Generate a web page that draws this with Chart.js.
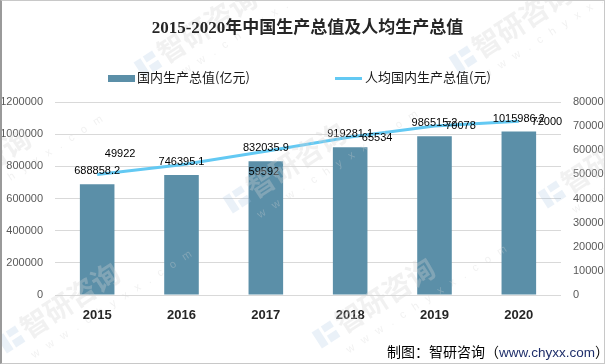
<!DOCTYPE html>
<html>
<head>
<meta charset="utf-8">
<script src="https://cdn.jsdelivr.net/npm/chart.js@4.4.0/dist/chart.umd.min.js"></script>
<style>
body { margin: 0; background: #fff; }
#wrap { position: relative; width: 605px; height: 364px; overflow: hidden; }
#frame { position: absolute; left: 0; top: 0; border: 1px solid #c8c8c8; border-left: 2px solid #9a9a9a; box-sizing: border-box; width: 605px; height: 364px; pointer-events: none; }
canvas { position: absolute; left: 0; top: 0; }
.title { position: absolute; left: 0; top: 13px; width: 605px; text-align: center; padding-left: 10px; box-sizing: border-box;
  font: bold 17px "Liberation Serif", "Noto Sans CJK SC", serif; color: #262626; }
.legend { position: absolute; top: 69px; font: 13px "Noto Sans CJK SC", sans-serif; color: #1a1a1a; line-height: 16px; }
.legend span.box { display: inline-block; width: 27px; height: 7px; background: #5b8fa8; vertical-align: middle; margin-right: 2px; }
.legend span.ln { display: inline-block; width: 27px; height: 3px; background: #63c9f3; vertical-align: middle; margin-right: 3px; }
.footer { position: absolute; left: 387px; top: 341px; font: 14px "Noto Sans CJK SC", sans-serif; color: #000; white-space: nowrap; }
.footer b { font-weight: normal; color: #1f2f6b; font-family: "Liberation Sans", Arial, sans-serif; font-size: 13.5px; }
</style>
</head>
<body>
<div id="wrap">
  <canvas id="myChart" width="605" height="364"></canvas>
  <div class="title">2015-2020年中国生产总值及人均生产总值</div>
  <div class="legend" style="left:108px"><span class="box"></span>国内生产总值(亿元)</div>
  <div class="legend" style="left:335px"><span class="ln"></span>人均国内生产总值(元)</div>
  <div class="footer">制图：智研咨询（<b>www.chyxx.com</b>）</div>
  <div id="frame"></div>
</div>
<script>
var years = ['2015', '2016', '2017', '2018', '2019', '2020'];
var gdp = [688858.2, 746395.1, 832035.9, 919281.1, 986515.2, 1015986.2];
var perCapita = [49922, 53980, 59592, 65534, 70078, 72000];
var showLineLabel = [true, false, true, true, true, true];
// label nudges (px) for the line values, the way excel left them
var lineLabelOffsets = [[23, -21], [0, 0], [-2, 21], [27, 1], [26, 0], [28, 1]];
var leftTicks = [0, 200000, 400000, 600000, 800000, 1000000, 1200000];
var rightTicks = [0, 10000, 20000, 30000, 40000, 50000, 60000, 70000, 80000];
// watermark anchors (logo spot), repeated over the picture
var marks = [[-72, 212], [154, 72], [17, 347], [243, 207], [469, 67], [332, 342], [558, 202]];

var labelPlugin = {
  id: 'valueLabels',
  afterDatasetsDraw: function(chart) {
    var ctx = chart.ctx;
    ctx.save();
    ctx.font = '11px "Liberation Sans", Arial, sans-serif';
    ctx.fillStyle = '#000';
    ctx.textAlign = 'center';
    ctx.textBaseline = 'middle';
    chart.getDatasetMeta(1).data.forEach(function(bar, i) {
      ctx.fillText(gdp[i].toFixed(1), bar.x, bar.y - 13);
    });
    chart.getDatasetMeta(0).data.forEach(function(pt, i) {
      if (!showLineLabel[i]) return;
      var o = lineLabelOffsets[i];
      ctx.fillText(String(perCapita[i]), pt.x + o[0], pt.y + o[1]);
    });
    ctx.restore();
  }
};

var watermark = {
  id: 'watermark',
  afterDraw: function(chart) {
    var ctx = chart.ctx;
    marks.forEach(function(m) {
      ctx.save();
      ctx.translate(m[0], m[1]);
      ctx.rotate(-33 * Math.PI / 180);
      // little logo
      ctx.fillStyle = 'rgba(160,190,225,0.22)';
      ctx.fillRect(-12, -19, 8, 19);
      ctx.fillRect(-1, -19, 11, 7);
      ctx.fillRect(-1, -8, 11, 8);
      ctx.fillStyle = 'rgba(210,210,210,0.32)';
      ctx.font = 'bold 28px "Noto Sans CJK SC", sans-serif';
      ctx.textBaseline = 'alphabetic';
      ctx.fillText('智研咨询', 14, 0);
      ctx.font = '11px "Liberation Sans", Arial, sans-serif';
      ctx.fillText('w   w   w   .   c   h   y   x   x   .   c   o   m', 8, 19);
      ctx.restore();
    });
  }
};

var ctx = document.getElementById('myChart').getContext('2d');
var chart = new Chart(ctx, {
  type: 'bar',
  data: {
    labels: years,
    datasets: [{
      type: 'line',
      label: '人均国内生产总值(元)',
      data: perCapita,
      yAxisID: 'y1',
      borderColor: '#63c9f3',
      backgroundColor: '#63c9f3',
      borderWidth: 3,
      pointRadius: 0,
      tension: 0,
      order: 0
    }, {
      label: '国内生产总值(亿元)',
      data: gdp,
      yAxisID: 'y',
      backgroundColor: '#5b8fa8',
      barPercentage: 0.41,
      categoryPercentage: 1,
      order: 1
    }]
  },
  options: {
    responsive: false,
    animation: false,
    events: [],
    layout: { padding: { top: 102, left: 0, right: 0, bottom: 0 } },
    plugins: { legend: { display: false }, title: { display: false }, tooltip: { enabled: false } },
    scales: {
      x: {
        grid: { display: false, drawTicks: false },
        border: { display: false },
        afterFit: function(s) { s.height = 69; },
        ticks: {
          padding: 13,
          color: '#262626',
          font: { size: 13, weight: 'bold', family: '"Liberation Sans", Arial, sans-serif' }
        }
      },
      y: {
        position: 'left',
        min: 0, max: 1200000,
        afterFit: function(s) { s.width = 55; },
        afterBuildTicks: function(s) { s.ticks = leftTicks.map(function(v) { return { value: v }; }); },
        grid: { color: '#d9d9d9', drawTicks: false },
        border: { display: false },
        ticks: {
          padding: 12,
          color: '#595959',
          callback: function(value) { return String(value); },
          font: { size: 11, family: '"Liberation Sans", Arial, sans-serif' }
        }
      },
      y1: {
        position: 'right',
        min: 0, max: 80000,
        afterFit: function(s) { s.width = 44; },
        afterBuildTicks: function(s) { s.ticks = rightTicks.map(function(v) { return { value: v }; }); },
        grid: { display: false, drawTicks: false },
        border: { display: false },
        ticks: {
          padding: 12,
          color: '#595959',
          callback: function(value) { return String(value); },
          font: { size: 11, family: '"Liberation Sans", Arial, sans-serif' }
        }
      }
    }
  },
  plugins: [labelPlugin, watermark]
});
</script>
</body>
</html>
